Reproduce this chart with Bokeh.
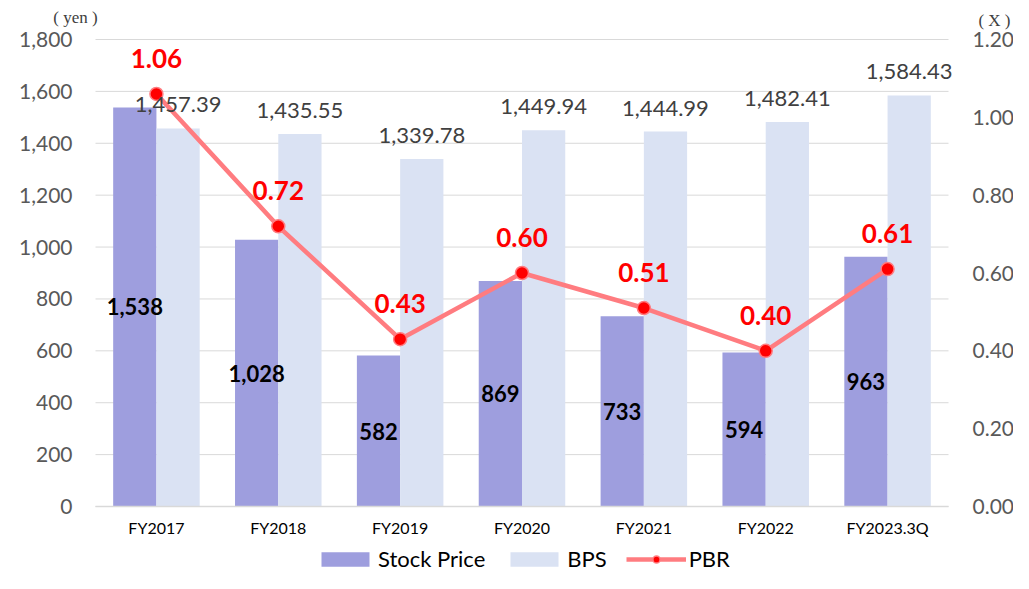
from bokeh.plotting import figure
from bokeh.models import (ColumnDataSource, Range1d, LinearAxis, NumeralTickFormatter,
                          Legend, LegendItem, Label, FixedTicker)
from bokeh.transform import dodge
from bokeh.core.properties import value
from bokeh.embed import file_html
from bokeh.resources import INLINE

categories = ["FY2017", "FY2018", "FY2019", "FY2020", "FY2021", "FY2022", "FY2023.3Q"]
stock_price = [1538, 1028, 582, 869, 733, 594, 963]
bps = [1457.39, 1435.55, 1339.78, 1449.94, 1444.99, 1482.41, 1584.43]
pbr = [1.06, 0.72, 0.43, 0.60, 0.51, 0.40, 0.61]
left_ticks = [0, 200, 400, 600, 800, 1000, 1200, 1400, 1600, 1800]
right_ticks = [0, 0.2, 0.4, 0.6, 0.8, 1.0, 1.2]

# ---- layout constants (pixels) ----
W, H = 1013, 573
FR_L, FR_R, FR_T, FR_B = 95, 948, 39, 506
N = len(categories)
cat_px = (FR_R - FR_L) / N
ymax_l, ymax_r = left_ticks[-1], right_ticks[-1]
ypx = (FR_B - FR_T) / ymax_l
y0 = -(H - FR_B) / ypx
y1 = ymax_l + FR_T / ypx
k = ymax_r / ymax_l

xc = [i + 0.5 for i in range(N)]
src = ColumnDataSource(dict(
    x=xc,
    stock=stock_price,
    stock_mid=[v / 2 for v in stock_price],
    stock_lbl=[f"{v:,}" for v in stock_price],
    bps=bps,
    bps_lbl=[f"{v:,.2f}" for v in bps],
    pbr=pbr,
    pbr_lbl=[f"{v:.2f}" for v in pbr],
))

FONT = "Lato"
STOCK_C = "#9E9EDE"
BPS_C = "#DAE2F3"
LINE_C = "#FF7C80"
GRID_C = "#D9D9D9"

p = figure(x_range=Range1d(-FR_L / cat_px, (W - FR_L) / cat_px), y_range=Range1d(y0, y1),
           width=W, height=H, output_backend="svg", toolbar_location=None,
           x_axis_location=None, y_axis_location=None, min_border=0)
p.extra_y_ranges = {"pbr": Range1d(y0 * k, y1 * k)}
p.outline_line_color = None
p.background_fill_color = "white"
p.border_fill_color = "white"
p.title.visible = False
p.xgrid.visible = False
p.ygrid.visible = False

# horizontal gridlines across the category area
p.segment(x0=0, x1=N, y0=left_ticks, y1=left_ticks, line_color=GRID_C, line_width=1)

OFF = 0.1775
BW = 0.355
r_stock = p.vbar(x=dodge("x", -OFF), top="stock", width=BW, source=src,
                 fill_color=STOCK_C, line_color=None)
r_bps = p.vbar(x=dodge("x", OFF), top="bps", width=BW, source=src,
               fill_color=BPS_C, line_color=None)

r_line = p.line(x="x", y="pbr", source=src, y_range_name="pbr", line_color=LINE_C, line_width=4.5)
r_pts = p.scatter(x="x", y="pbr", source=src, y_range_name="pbr", size=13,
                  fill_color="#FF0000", line_color=LINE_C, line_width=1.5)

p.text(x=dodge("x", -OFF), y="stock_mid", text="stock_lbl", source=src,
       text_align="center", text_baseline="middle", text_font=value(FONT),
       text_font_style="bold", text_font_size="22px", text_color="black")
p.text(x=dodge("x", OFF), y="bps", text="bps_lbl", source=src,
       text_align="center", text_baseline="bottom", y_offset=-16, text_font=value(FONT),
       text_font_size="22px", text_color="#404040")
p.text(x="x", y="pbr", text="pbr_lbl", source=src, y_range_name="pbr",
       text_align="center", text_baseline="bottom", y_offset=-26, text_font=value(FONT),
       text_font_style="bold", text_font_size="26px", text_color="#FF0000")

# ---- axes ----
la = LinearAxis(ticker=FixedTicker(ticks=left_ticks), formatter=NumeralTickFormatter(format="0,0"),
                fixed_location=0, bounds=(0, ymax_l))
ra = LinearAxis(y_range_name="pbr", ticker=FixedTicker(ticks=right_ticks),
                formatter=NumeralTickFormatter(format="0.00"), fixed_location=N, bounds=(0, ymax_r))
for ax, so in ((la, 17), (ra, 18)):
    ax.axis_line_color = None
    ax.major_tick_line_color = None
    ax.minor_tick_line_color = None
    ax.major_label_text_font = FONT
    ax.major_label_text_font_size = "21px"
    ax.major_label_text_color = "#595959"
    ax.major_label_standoff = so
p.add_layout(la, "left")
p.add_layout(ra, "right")

xa = LinearAxis(ticker=FixedTicker(ticks=xc), fixed_location=0, bounds=(0, N),
                major_label_overrides={x: c for x, c in zip(xc, categories)})
xa.axis_line_color = GRID_C
xa.axis_line_width = 1.5
xa.major_tick_line_color = None
xa.minor_tick_line_color = None
xa.major_label_text_font = FONT
xa.major_label_text_font_size = "16px"
xa.major_label_text_color = "black"
xa.major_label_standoff = 5
p.add_layout(xa, "below")

# unit captions
p.add_layout(Label(x=(75 - FR_L) / cat_px, y=(FR_B - 17) / ypx, text="( yen )",
                   text_align="center", text_baseline="middle",
                   text_font="Liberation Serif", text_font_size="17px", text_color="#404040"))
p.add_layout(Label(x=(1010 - FR_L) / cat_px, y=(FR_B - 20) / ypx, text="( X )",
                   text_align="right", text_baseline="middle",
                   text_font="Liberation Serif", text_font_size="17px", text_color="#404040"))

legend = Legend(items=[
    LegendItem(label="Stock Price", renderers=[r_stock]),
    LegendItem(label="BPS", renderers=[r_bps]),
    LegendItem(label="PBR", renderers=[r_line, r_pts]),
], location=(315, 1), orientation="horizontal")
legend.padding = 0
legend.margin = 0
legend.spacing = 19
legend.border_line_color = None
legend.background_fill_alpha = 0
legend.glyph_width = 60
legend.glyph_height = 18
legend.label_standoff = 3
legend.label_text_font = FONT
legend.label_text_font_size = "22px"
legend.label_text_color = "black"
p.add_layout(legend, "center")

open("out.html", "w").write(file_html(p, INLINE))
